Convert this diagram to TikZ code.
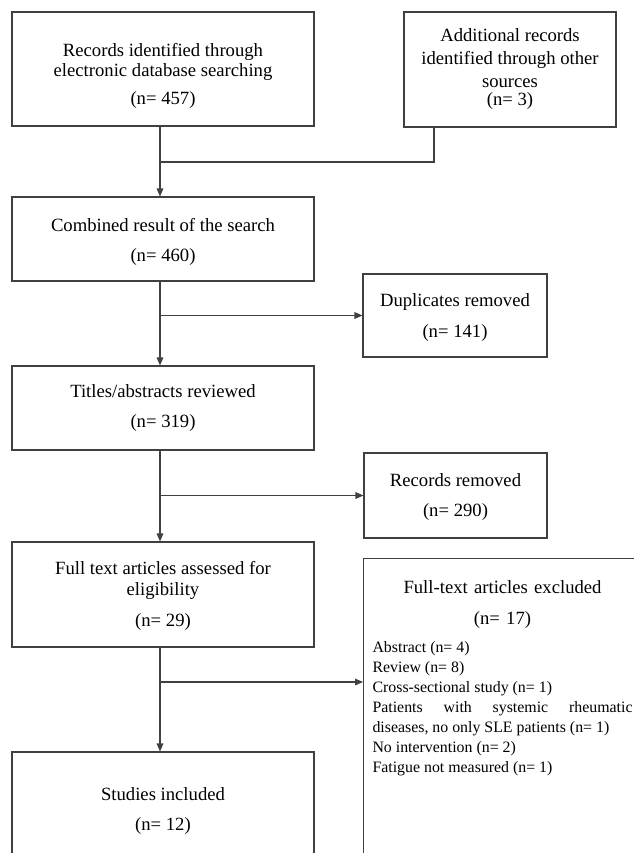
\documentclass[tikz,border=0pt]{standalone}
\usepackage{fontspec}
\setmainfont{Liberation Serif}
\usetikzlibrary{arrows.meta}

\begin{document}
\begin{tikzpicture}[
    x=0.75pt, y=-0.75pt,
    box/.style={
        draw=black!75,
        line width=0.8pt,
        align=center,
        inner sep=0pt,
        font=\fontsize{14}{15}\selectfont
    },
    listbox/.style={
        draw=black!75,
        line width=0.8pt,
        inner xsep=6.75pt,
        inner ysep=16.5pt,
        text width=195pt,
        font=\fontsize{14}{15}\selectfont
    },
    flow/.style={
        draw=black!75,
        line width=0.8pt,
        -{Triangle[length=6pt,width=5pt]}
    },
    mergeline/.style={draw=black!75, line width=0.8pt}
]
    \useasboundingbox (0,0) rectangle (634,853);
    \clip (0,0) rectangle (634,853);

    % main column
    \node[box, minimum width=226.5pt, minimum height=85.5pt] (rec) at (163,69)
        {\rule{0pt}{20pt}Records identified through\\electronic database searching\\[6pt](n= 457)};
    \node[box, minimum width=159pt, minimum height=86.25pt] (add) at (510,69.5)
        {Additional records\\[2.25pt]identified through other\\[2.25pt]sources\\[-1.5pt](n= 3)};
    \node[box, minimum width=226.5pt, minimum height=63pt] (comb) at (163,239)
        {\rule{0pt}{14pt}Combined result of the search\\[8pt](n= 460)};
    \node[box, minimum width=138pt, minimum height=62.25pt] (dup) at (455,315.5)
        {\rule{0pt}{13pt}Duplicates removed\\[8pt](n= 141)};
    \node[box, minimum width=226.5pt, minimum height=63pt] (tit) at (163,408)
        {Titles/abstracts reviewed\\[8pt](n= 319)};
    \node[box, minimum width=137.25pt, minimum height=63.75pt] (recrem) at (455.5,495.5)
        {\rule{0pt}{12pt}Records removed\\[8pt](n= 290)};
    \node[box, minimum width=226.5pt, minimum height=78.75pt] (full) at (163,594.5)
        {\rule{0pt}{12pt}Full text articles assessed for\\[1pt]eligibility\\[8pt](n= 29)};
    \node[box, minimum width=226.5pt, minimum height=88.5pt] (stud) at (163,811)
        {Studies included\\[7pt](n= 12)};

    % exclusion list, cut at the page edge
    \node[listbox, anchor=north west] (excl) at (363,558)
        {{\centering Full-text articles excluded\\[8pt](n= 17)\par}
         \vspace{6pt}
         \fontsize{11.9}{15}\selectfont\spaceskip=0pt \xspaceskip=0pt
         Abstract (n= 4)\\
         Review (n= 8)\\
         Cross-sectional study (n= 1)\\
         Patients\hfill with\hfill systemic\hfill rheumatic\\
         diseases, no only SLE patients (n= 1)\\
         No intervention (n= 2)\\
         Fatigue not measured (n= 1)\\
         \rule{0pt}{90pt}};

    % connectors
    \coordinate (trunk) at (160,0);
    \coordinate (addfoot) at (434,0);
    \coordinate (m1) at (160,162);
    \coordinate (b3) at (160,682);

    \draw[mergeline] (add.south -| addfoot) |- (m1);
    \draw[flow] (rec.south -| trunk) -- (comb.north -| trunk);
    \draw[flow] (comb.south -| trunk) -- (tit.north -| trunk);
    \draw[flow] (tit.south -| trunk) -- (full.north -| trunk);
    \draw[flow] (full.south -| trunk) -- (stud.north -| trunk);

    \draw[flow] (dup.west -| trunk) -- (dup.west);
    \draw[flow] (recrem.west -| trunk) -- (recrem.west);
    \draw[flow] (b3) -- (b3 -| excl.west);
\end{tikzpicture}
\end{document}
